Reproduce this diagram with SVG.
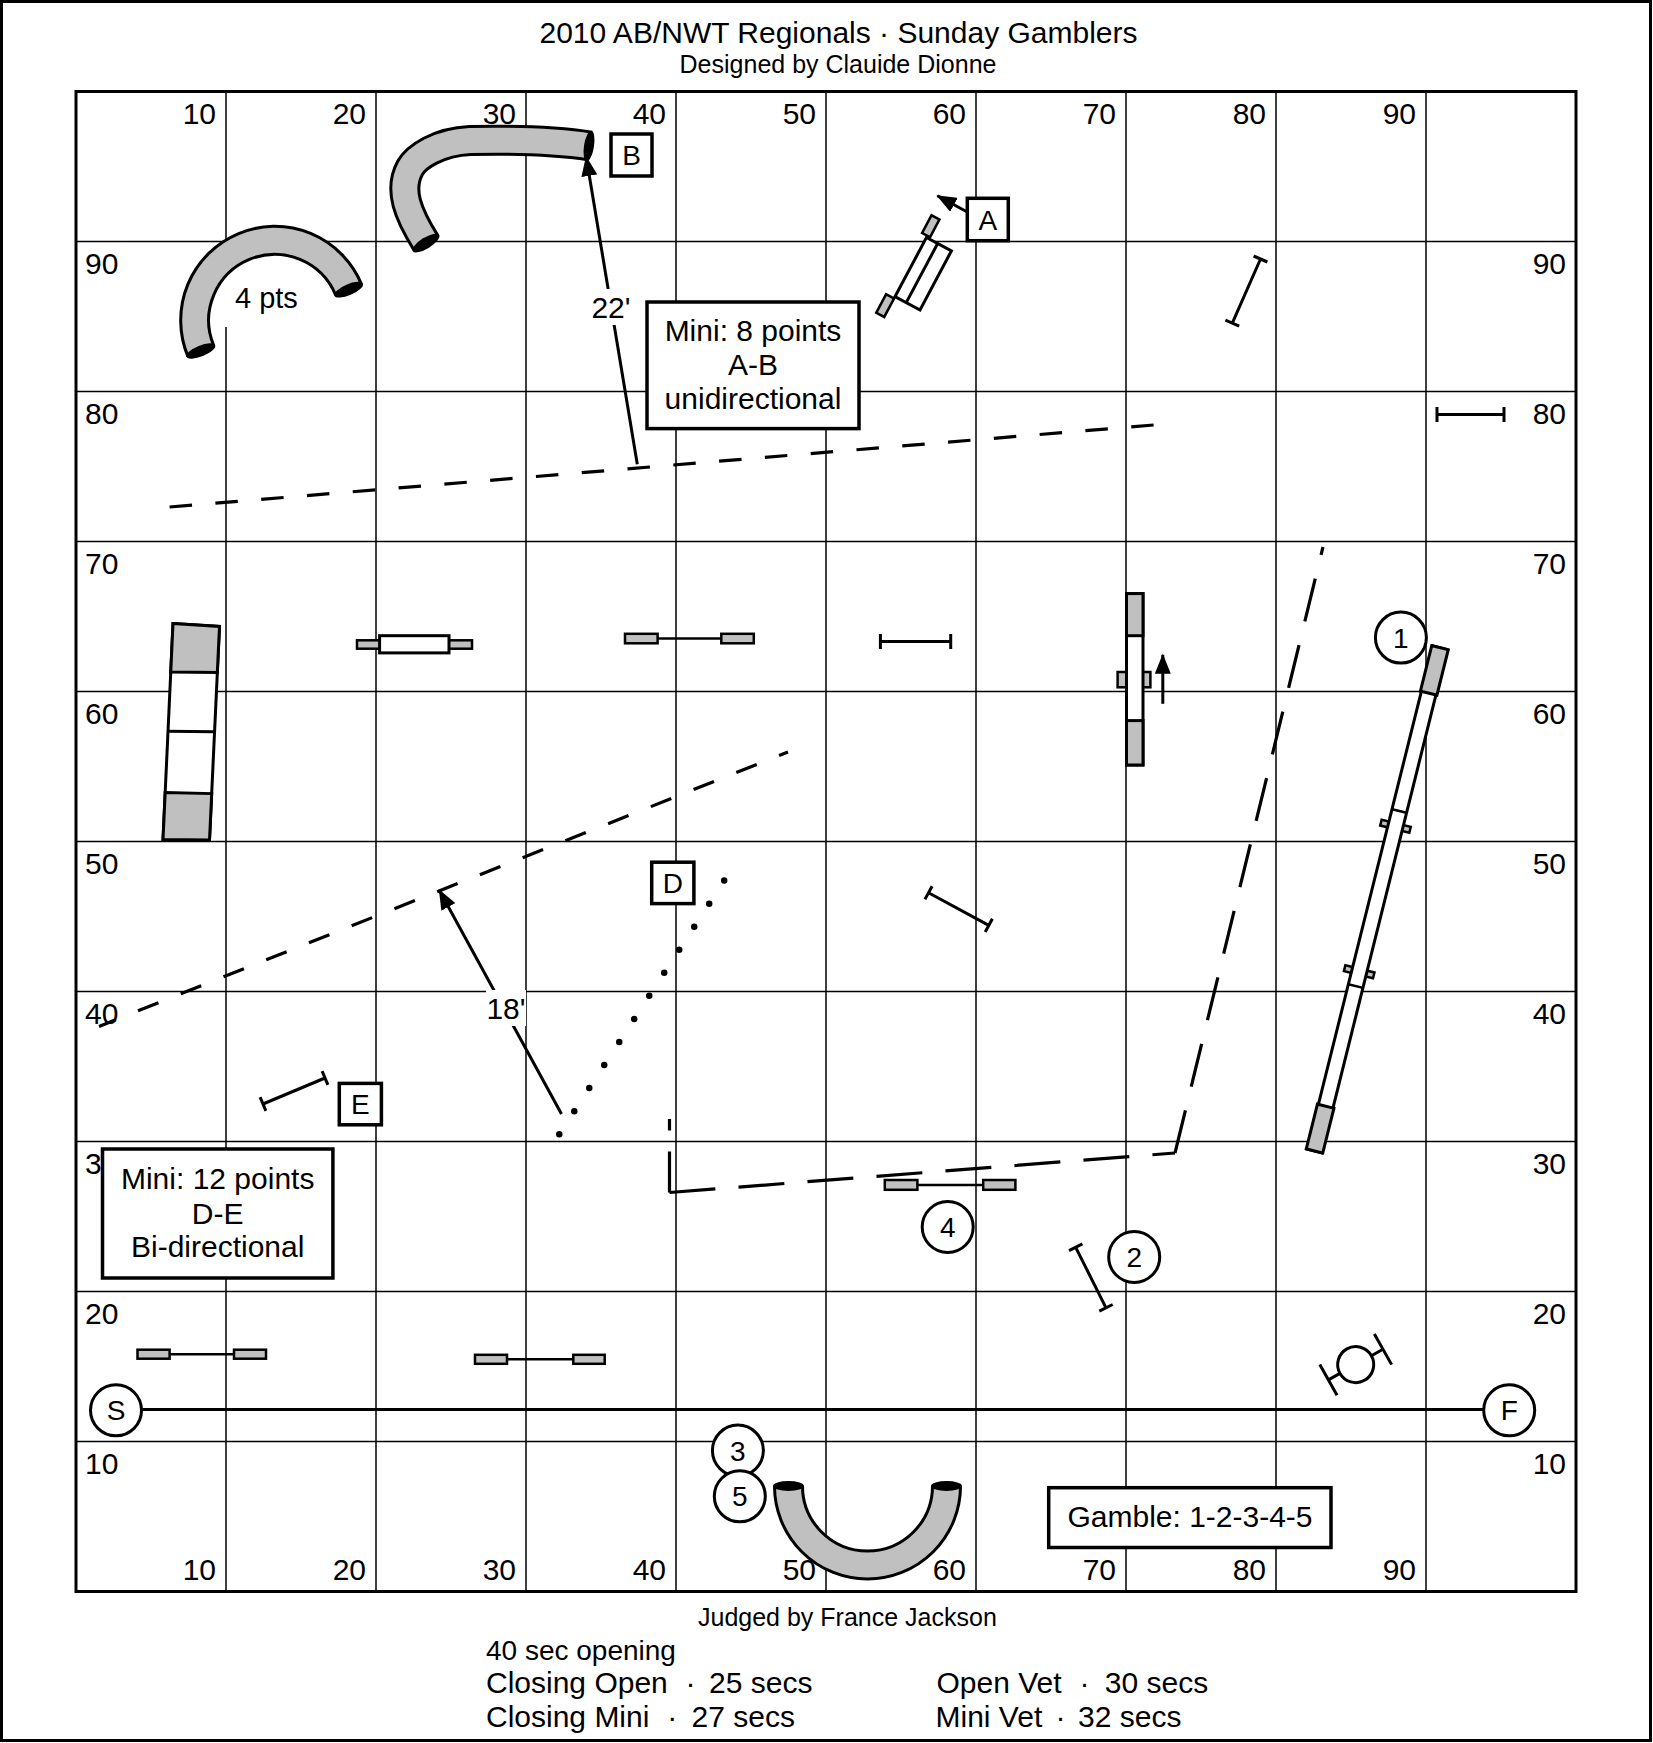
<svg xmlns="http://www.w3.org/2000/svg" width="1653" height="1743" viewBox="0 0 1653 1743">
<defs>
<style>
text{font-family:"Liberation Sans",Arial,sans-serif;fill:#000}
.t30{font-size:30px}
.t28{font-size:28px}
.t25{font-size:25px}
.mid{text-anchor:middle}
.end{text-anchor:end}
.grid{stroke:#000;stroke-width:1.5;fill:none}
.ln{stroke:#000;stroke-width:3;fill:none}
.thin{stroke:#000;stroke-width:2.5;fill:none}
.box{fill:#fff;stroke:#000;stroke-width:3.5}
.circ{fill:#fff;stroke:#000;stroke-width:3}
.gray{fill:#c0c0c0;stroke:#000;stroke-width:3}
.grayt{fill:#c0c0c0;stroke:#000;stroke-width:2.5}
.white{fill:#fff;stroke:#000;stroke-width:3}
.bg{fill:#fff;stroke:none}
.dash{stroke:#000;stroke-width:3.2;fill:none}
.tube-o{fill:none;stroke:#000;stroke-width:31}
.tube-i{fill:none;stroke:#c0c0c0;stroke-width:25}
.cap{fill:#000}
</style>
<marker id="ah" viewBox="0 0 20 16" refX="19" refY="8" markerWidth="20" markerHeight="16" markerUnits="userSpaceOnUse" orient="auto"><path d="M0,0 L20,8 L0,16 z" fill="#000"/></marker>
</defs>
<rect width="1653" height="1743" fill="#fff"/>
<rect x="1.5" y="1.5" width="1649" height="1739" fill="none" stroke="#000" stroke-width="3"/>

<g id="titles">
<text x="838.5" y="43" class="t30 mid">2010 AB/NWT Regionals · Sunday Gamblers</text>
<text x="838" y="73" class="t25 mid">Designed by Clauide Dionne</text>
</g>

<g id="grid">
<path class="grid" d="M226,91.5V1591.5M376,91.5V1591.5M526,91.5V1591.5M676,91.5V1591.5M826,91.5V1591.5M976,91.5V1591.5M1126,91.5V1591.5M1276,91.5V1591.5M1426,91.5V1591.5M76,241.5H1576M76,391.5H1576M76,541.5H1576M76,691.5H1576M76,841.5H1576M76,991.5H1576M76,1141.5H1576M76,1291.5H1576M76,1441.5H1576"/>
<rect x="76" y="91.5" width="1500" height="1500" fill="none" stroke="#000" stroke-width="3"/>
</g>

<g id="axis-labels" class="t30">
<g class="end">
<text x="216" y="124">10</text><text x="366" y="124">20</text><text x="516" y="124">30</text><text x="666" y="124">40</text><text x="816" y="124">50</text><text x="966" y="124">60</text><text x="1116" y="124">70</text><text x="1266" y="124">80</text><text x="1416" y="124">90</text>
<text x="216" y="1580">10</text><text x="366" y="1580">20</text><text x="516" y="1580">30</text><text x="666" y="1580">40</text><text x="816" y="1580">50</text><text x="966" y="1580">60</text><text x="1116" y="1580">70</text><text x="1266" y="1580">80</text><text x="1416" y="1580">90</text>
<text x="1566" y="274">90</text><text x="1566" y="424">80</text><text x="1566" y="574">70</text><text x="1566" y="724">60</text><text x="1566" y="874">50</text><text x="1566" y="1024">40</text><text x="1566" y="1174">30</text><text x="1566" y="1324">20</text><text x="1566" y="1474">10</text>
</g>
<text x="85" y="274">90</text><text x="85" y="424">80</text><text x="85" y="574">70</text><text x="85" y="724">60</text><text x="85" y="874">50</text><text x="85" y="1024">40</text><text x="85" y="1174">30</text><text x="85" y="1324">20</text><text x="85" y="1474">10</text>
</g>

<g id="connectors">
<path class="dash" d="M169.6,507 L1153.6,425" stroke-dasharray="22.5 23.45"/>
<path class="dash" d="M99,1026.4 L788,752" stroke-dasharray="22 24" stroke-dashoffset="4"/>
<path class="dash" d="M669.5,1192.5 V1119" stroke-dasharray="41 21"/>
<path class="dash" d="M669.5,1192.5 L1175,1153" stroke-dasharray="46 23.2"/>
<path class="dash" d="M1175,1153 L1323,547" stroke-dasharray="44 24.4"/>
<path d="M724.2,880.6 L559.2,1134.3" fill="none" stroke="#000" stroke-width="6.5" stroke-linecap="round" stroke-dasharray="0 27.5"/>
<path class="ln" d="M637.3,464.3 L586.2,157" marker-end="url(#ah)"/>
<path class="ln" d="M561.5,1114 L439.3,890.2" marker-end="url(#ah)"/>
<path class="ln" d="M967.3,212 L937.3,195.7" marker-end="url(#ah)"/>
<path class="ln" d="M1162.8,703.8 L1162.8,654.8" marker-end="url(#ah)"/>
<path class="ln" d="M116,1409.5 L1509,1409.5"/>
<rect class="bg" x="590" y="289" width="42" height="36"/>
<text x="611" y="318" class="t30 mid">22'</text>
<rect class="bg" x="486" y="990" width="40" height="36"/>
<text x="506" y="1018.5" class="t30 mid">18'</text>
</g>

<g id="tunnel-4pts">
<rect class="bg" x="220" y="262" width="86" height="65"/>
<path class="tube-o" d="M200.8,351 A80,80 0 0 1 348.6,289.7"/>
<path class="tube-i" d="M200.8,351 A80,80 0 0 1 348.6,289.7"/>
<ellipse class="cap" cx="200.8" cy="351" rx="15.5" ry="5.5" transform="rotate(-22 200.8 351)"/>
<ellipse class="cap" cx="348.6" cy="289.7" rx="15.5" ry="5.5" transform="rotate(-23 348.6 289.7)"/>
<text x="235" y="308" font-size="29">4 pts</text>
</g>

<g id="tunnel-B">
<path class="tube-o" d="M426,243 C408,214 398,190 410,168 C416,157 438,142 470,140.5 Q545,139 590,146"/>
<path class="tube-i" d="M426,243 C408,214 398,190 410,168 C416,157 438,142 470,140.5 Q545,139 590,146"/>
<ellipse class="cap" cx="426" cy="243" rx="15.5" ry="5.5" transform="rotate(-32 426 243)"/>
<ellipse class="cap" cx="589" cy="146" rx="5" ry="15.5" transform="rotate(8.8 589 146)"/>
</g>

<g id="tunnel-bottom">
<path class="tube-o" d="M788.5,1486 A79,79 0 0 0 946.5,1486"/>
<path class="tube-i" d="M788.5,1486 A79,79 0 0 0 946.5,1486"/>
<ellipse class="cap" cx="788.5" cy="1486" rx="15.5" ry="5"/>
<ellipse class="cap" cx="946.5" cy="1486" rx="15.5" ry="5"/>
</g>

<g id="label-B"><rect class="box" x="611" y="134" width="41" height="42"/><text x="631.5" y="165" class="t28 mid">B</text></g>
<g id="label-A"><rect class="box" x="967.3" y="198.3" width="41" height="42.4"/><text x="987.8" y="229.5" class="t28 mid">A</text></g>
<g id="label-D"><rect class="box" x="651.7" y="862.2" width="42.2" height="41.4"/><text x="672.8" y="893" class="t28 mid">D</text></g>
<g id="label-E"><rect class="box" x="339.3" y="1083.4" width="42.1" height="41.4"/><text x="360.3" y="1114" class="t28 mid">E</text></g>

<g id="teeter-top" transform="translate(895,296.7) rotate(-62)">
<rect class="white" x="0" y="0" width="67" height="28.3"/>
<line class="ln" x1="0" y1="12.7" x2="67" y2="12.7"/>
<rect class="grayt" x="69" y="-6" width="20" height="9"/>
<rect class="grayt" x="-23" y="-9" width="21" height="9"/>
</g>

<g id="jump-top-right"><path class="ln" d="M1260.5,259 L1232.3,323.2 M1253.6,256 L1267.4,262 M1225.4,320.2 L1239.2,326.2"/></g>
<g id="jump-80"><path class="ln" d="M1437,414.5 H1504 M1437,407 V422 M1504,407 V422"/></g>
<g id="jump-center"><path class="ln" d="M880.4,641.4 H950.7 M880.4,633.9 V648.9 M950.7,633.9 V648.9"/></g>
<g id="jump-diag"><path class="ln" d="M928.5,892.8 L988.8,925.4 M932.1,886.2 L924.9,899.4 M992.4,918.8 L985.2,932"/></g>
<g id="jump-E"><path class="ln" d="M263,1104 L325,1078 M260.1,1097.1 L265.9,1110.9 M322.1,1071.1 L327.9,1084.9"/></g>
<g id="jump-2"><path class="ln" d="M1075.7,1247.3 L1106,1307.9 M1069,1250.6 L1082.4,1243.9 M1099.3,1311.2 L1112.7,1304.5"/></g>

<g id="aframe">
<path class="white" d="M173,623.5 L219.5,626.5 L209.5,840 L163,839.5 Z"/>
<path class="gray" d="M173,623.5 L219.5,626.5 L217.3,672.6 L170.75,672 Z"/>
<path class="gray" d="M165.2,792.6 L211.7,793.6 L209.5,840 L163,839.5 Z"/>
<path class="ln" d="M168,731.3 L214.6,731.7"/>
</g>

<g id="tire-panel">
<rect class="grayt" x="357" y="640.3" width="115" height="8.4"/>
<rect class="white" x="379.6" y="635.7" width="69.4" height="17.2"/>
</g>

<g id="spread-1"><path class="thin" d="M657.6,638.6 H721.3"/><rect class="grayt" x="625" y="633.8" width="32.6" height="9.5"/><rect class="grayt" x="721.3" y="633.8" width="32.5" height="9.5"/></g>
<g id="spread-2"><path class="thin" d="M169.6,1354.2 H234"/><rect class="grayt" x="137.5" y="1349.7" width="32.1" height="9"/><rect class="grayt" x="234" y="1349.7" width="32" height="9"/></g>
<g id="spread-3"><path class="thin" d="M507,1359.3 H573.3"/><rect class="grayt" x="475" y="1354.8" width="32" height="9"/><rect class="grayt" x="573.3" y="1354.8" width="31.4" height="9"/></g>
<g id="spread-4"><path class="thin" d="M917.4,1184.9 H983.2"/><rect class="grayt" x="884.8" y="1180" width="32.6" height="9.8"/><rect class="grayt" x="983.2" y="1180" width="32.2" height="9.8"/></g>

<g id="teeter-vertical">
<rect class="grayt" x="1117.6" y="672" width="32.8" height="15.3"/>
<rect class="white" x="1126.5" y="593.6" width="16.5" height="171.4"/>
<rect class="gray" x="1126.5" y="593.6" width="16.5" height="42.1"/>
<rect class="gray" x="1126.5" y="720.6" width="16.5" height="44.4"/>
</g>

<g id="dogwalk" transform="translate(1440,647.7) rotate(104)">
<rect class="grayt" x="181" y="-15" width="6" height="30"/>
<rect class="grayt" x="331" y="-15" width="6" height="30"/>
<rect class="white" x="0" y="-7.5" width="518.7" height="15"/>
<rect class="gray" x="0" y="-8.5" width="46.8" height="17"/>
<rect class="gray" x="472.5" y="-8.5" width="46.2" height="17"/>
<path class="thin" d="M168.3,-7.5 V7.5 M348.7,-7.5 V7.5"/>
</g>

<g id="tire" transform="translate(1355.7,1364.6) rotate(-29.3)">
<circle class="circ" cx="0" cy="0" r="18"/>
<path class="ln" d="M18,0 H31.3 M-18,0 H-31.3 M31.3,-17.6 V17.6 M-31.3,-17.6 V17.6"/>
</g>

<g id="box-mini8"><rect class="box" x="647" y="302" width="212" height="126.6"/>
<text x="753" y="341" class="t30 mid">Mini: 8 points</text><text x="753" y="375" class="t30 mid">A-B</text><text x="753" y="409" class="t30 mid">unidirectional</text></g>
<g id="box-mini12"><rect class="box" x="102.5" y="1149" width="230.4" height="129"/>
<text x="217.7" y="1189.4" class="t30 mid">Mini: 12 points</text><text x="217.7" y="1223.8" class="t30 mid">D-E</text><text x="217.7" y="1257.4" class="t30 mid">Bi-directional</text></g>
<g id="box-gamble"><rect class="box" x="1048.7" y="1487.7" width="282.3" height="59.8"/>
<text x="1190" y="1527" class="t30 mid">Gamble: 1-2-3-4-5</text></g>

<g id="num-1"><circle class="circ" cx="1400.9" cy="637.6" r="25.5"/><text x="1400.9" y="647.6" class="t28 mid">1</text></g>
<g id="num-2"><circle class="circ" cx="1134.2" cy="1257" r="25.5"/><text x="1134.2" y="1267" class="t28 mid">2</text></g>
<g id="num-4"><circle class="circ" cx="947.7" cy="1227" r="25.5"/><text x="947.7" y="1237" class="t28 mid">4</text></g>
<g id="num-3"><circle class="circ" cx="737.9" cy="1450.6" r="25.5"/><text x="737.9" y="1460.6" class="t28 mid">3</text></g>
<g id="num-5"><circle class="circ" cx="739.8" cy="1496.3" r="25.5"/><text x="739.8" y="1506.3" class="t28 mid">5</text></g>
<g id="start"><circle class="circ" cx="116" cy="1410.3" r="25.5"/><text x="116" y="1420.3" class="t28 mid">S</text></g>
<g id="finish"><circle class="circ" cx="1509.2" cy="1410.3" r="25.5"/><text x="1509.2" y="1420.3" class="t28 mid">F</text></g>

<g id="footer">
<text x="847.4" y="1626" class="t25 mid">Judged by France Jackson</text>
<text x="486" y="1660" class="t28">40 sec opening</text>
<text x="486" y="1693" class="t30">Closing Open</text><text x="685.6" y="1693" class="t30">·</text><text x="709" y="1693" class="t30">25 secs</text>
<text x="486" y="1727" class="t30">Closing Mini</text><text x="667.2" y="1727" class="t30">·</text><text x="691.6" y="1727" class="t30">27 secs</text>
<text x="936.5" y="1693" class="t30">Open Vet</text><text x="1079.6" y="1693" class="t30">·</text><text x="1104.8" y="1693" class="t30">30 secs</text>
<text x="935.5" y="1727" class="t30">Mini Vet</text><text x="1055.6" y="1727" class="t30">·</text><text x="1078" y="1727" class="t30">32 secs</text>
</g>
</svg>
